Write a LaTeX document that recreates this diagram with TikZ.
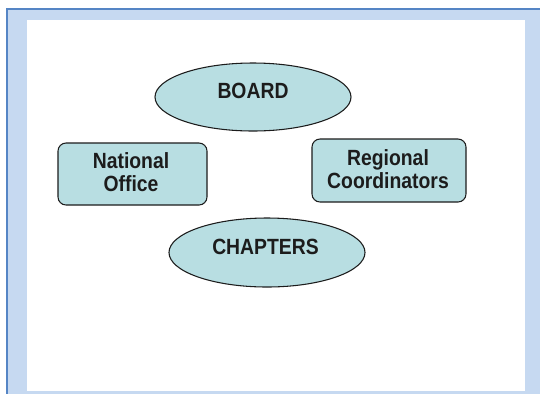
\documentclass[tikz,border=0pt]{standalone}
\usepackage{fontspec}
\setmainfont{Liberation Sans}[FakeStretch=0.88]
\usetikzlibrary{shapes.geometric}
\definecolor{frameblue}{HTML}{C6D9F1}
\definecolor{lineblue}{HTML}{5585C5}
\definecolor{shapefill}{HTML}{B8DEE2}
\definecolor{inkc}{HTML}{1C1C1C}
\tikzset{
  lbl/.style={font=\bfseries\fontsize{16.5}{17.6}\selectfont, text=inkc, align=center},
  oval/.style={ellipse, draw=inkc, line width=0.8pt, fill=shapefill, inner sep=0pt, lbl},
  rbox/.style={rectangle, rounded corners=6pt, draw=inkc, line width=0.8pt, fill=shapefill, inner sep=0pt, lbl}
}
\begin{document}
\begin{tikzpicture}[x=0.75pt,y=-0.75pt]
\useasboundingbox (0,0) rectangle (540,394);
\fill[white] (0,0) rectangle (540,394);
\fill[frameblue] (6,8) rectangle (540,394);
\fill[lineblue] (6,8) rectangle (540,10);
\fill[lineblue] (6,8) rectangle (8,394);
\fill[white] (26.7,20) rectangle (525,390.7);
\node[oval, minimum width=196*0.75pt, minimum height=68*0.75pt] (board) at (253,97) {};
\node[lbl] (boardtxt) at (253,91) {BOARD};
\node[rbox, minimum width=149*0.75pt, minimum height=62*0.75pt] (national) at (132.5,174) {};
\node[lbl] (nationaltxt) at (131,172) {National\\Office};
\node[rbox, minimum width=154*0.75pt, minimum height=63*0.75pt] (regional) at (389,170.5) {};
\node[lbl] (regionaltxt) at (388,169) {Regional\\Coordinators};
\node[oval, minimum width=196*0.75pt, minimum height=69*0.75pt] (chapters) at (267,252.5) {};
\node[lbl] (chapterstxt) at (265.5,246.5) {CHAPTERS};
\end{tikzpicture}
\end{document}
